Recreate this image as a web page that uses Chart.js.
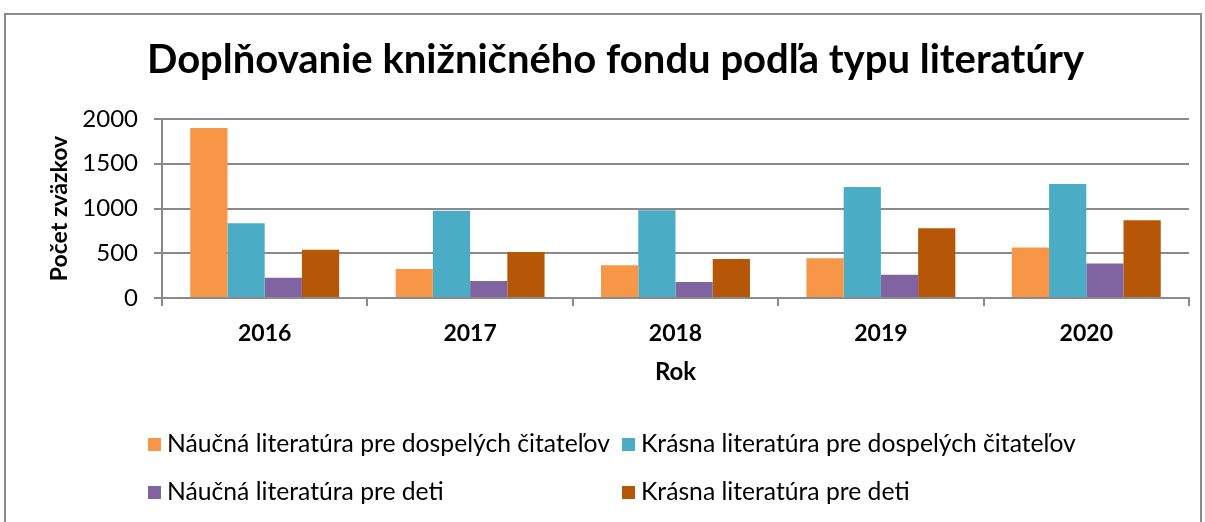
<!DOCTYPE html>
<html>
<head>
<meta charset="utf-8">
<script src="https://cdn.jsdelivr.net/npm/chart.js@4"></script>
<style>
  body { margin: 0; background: #fff; font-family: Lato, sans-serif; }
  #ram { position: absolute; left: 4px; top: 13px; width: 1194px; height: 520px; border: 2px solid #8a8a8a; border-bottom: none; }
  #platno { position: absolute; left: 0; top: 0; }
  #legenda { position: absolute; left: 148px; top: 429px; width: 1000px; }
  .polozka { position: absolute; font-size: 24.7px; color: #000; white-space: nowrap; line-height: 28px; }
  .stvorec { display: inline-block; width: 13px; height: 13px; margin-right: 6px; vertical-align: 1px; }
</style>
</head>
<body>
<div id="ram"></div>
<canvas id="platno" width="1205" height="522"></canvas>
<div id="legenda"></div>
<script>
var roky = ["2016", "2017", "2018", "2019", "2020"];
var nazvySerii = [
  "Náučná literatúra pre dospelých čitateľov",
  "Krásna literatúra pre dospelých čitateľov",
  "Náučná literatúra pre deti",
  "Krásna literatúra pre deti"
];
var naucnaDospeli = [1900, 325, 365, 445, 565];
var krasnaDospeli = [835, 975, 980, 1240, 1275];
var naucnaDeti = [225, 190, 180, 260, 385];
var krasnaDeti = [540, 515, 435, 780, 870];
var farby = ["#F79646", "#4BACC6", "#8064A2", "#B65708"];
var hodnotyOsY = [0, 500, 1000, 1500, 2000];

var sivaCiara = "#8a8a8a";
var vsetkyHodnoty = [naucnaDospeli, krasnaDospeli, naucnaDeti, krasnaDeti];

var datasety = [];
for (var i = 0; i < nazvySerii.length; i++) {
  datasety.push({
    label: nazvySerii[i],
    data: vsetkyHodnoty[i],
    backgroundColor: farby[i],
    borderWidth: 0,
    barPercentage: 1,
    categoryPercentage: 0.725
  });
}

var graf = new Chart(platno.getContext("2d"), {
  type: "bar",
  data: { labels: roky, datasets: datasety },
  options: {
    responsive: false,
    animation: false,
    layout: { padding: { left: 42, right: 16, top: 0, bottom: 131 } },
    plugins: {
      legend: { display: false },
      tooltip: { enabled: false },
      title: {
        display: true,
        text: "Doplňovanie knižničného fondu podľa typu literatúry",
        color: "#000",
        font: { family: "Lato", size: 40, weight: "bold" },
        padding: { top: 36, bottom: 35 }
      }
    },
    scales: {
      x: {
        grid: { offset: true, drawOnChartArea: false, drawTicks: true, tickLength: 8, color: sivaCiara, lineWidth: 2 },
        border: { color: sivaCiara, width: 2 },
        ticks: { color: "#000", font: { family: "Lato", size: 23, weight: "bold" }, padding: 14 },
        title: { display: true, text: "Rok", color: "#000", font: { family: "Lato", size: 24, weight: "bold" } },
        afterFit: function (osa) { osa.height = 93; }
      },
      y: {
        min: 0,
        max: 2000,
        afterBuildTicks: function (osa) {
          osa.ticks = hodnotyOsY.map(function (v) { return { value: v }; });
        },
        grid: { color: sivaCiara, lineWidth: 2, tickLength: 8 },
        border: { color: sivaCiara, width: 2 },
        ticks: {
          color: "#000",
          font: { family: "Lato", size: 24 },
          padding: 16,
          callback: function (v) { return String(v); }
        },
        title: { display: true, text: "Počet zväzkov", color: "#000", font: { family: "Lato", size: 23, weight: "bold" } },
        afterFit: function (osa) { osa.width = 120; }
      }
    }
  }
});

// legenda v dvoch stĺpcoch ako v Exceli
var polohyLegendy = [[0, 0], [474, 0], [0, 48], [474, 48]];
for (var j = 0; j < nazvySerii.length; j++) {
  var el = document.createElement("div");
  el.className = "polozka";
  el.style.left = polohyLegendy[j][0] + "px";
  el.style.top = polohyLegendy[j][1] + "px";
  el.innerHTML = '<span class="stvorec" style="background:' + farby[j] + '"></span>' + nazvySerii[j];
  legenda.appendChild(el);
}
</script>
</body>
</html>
